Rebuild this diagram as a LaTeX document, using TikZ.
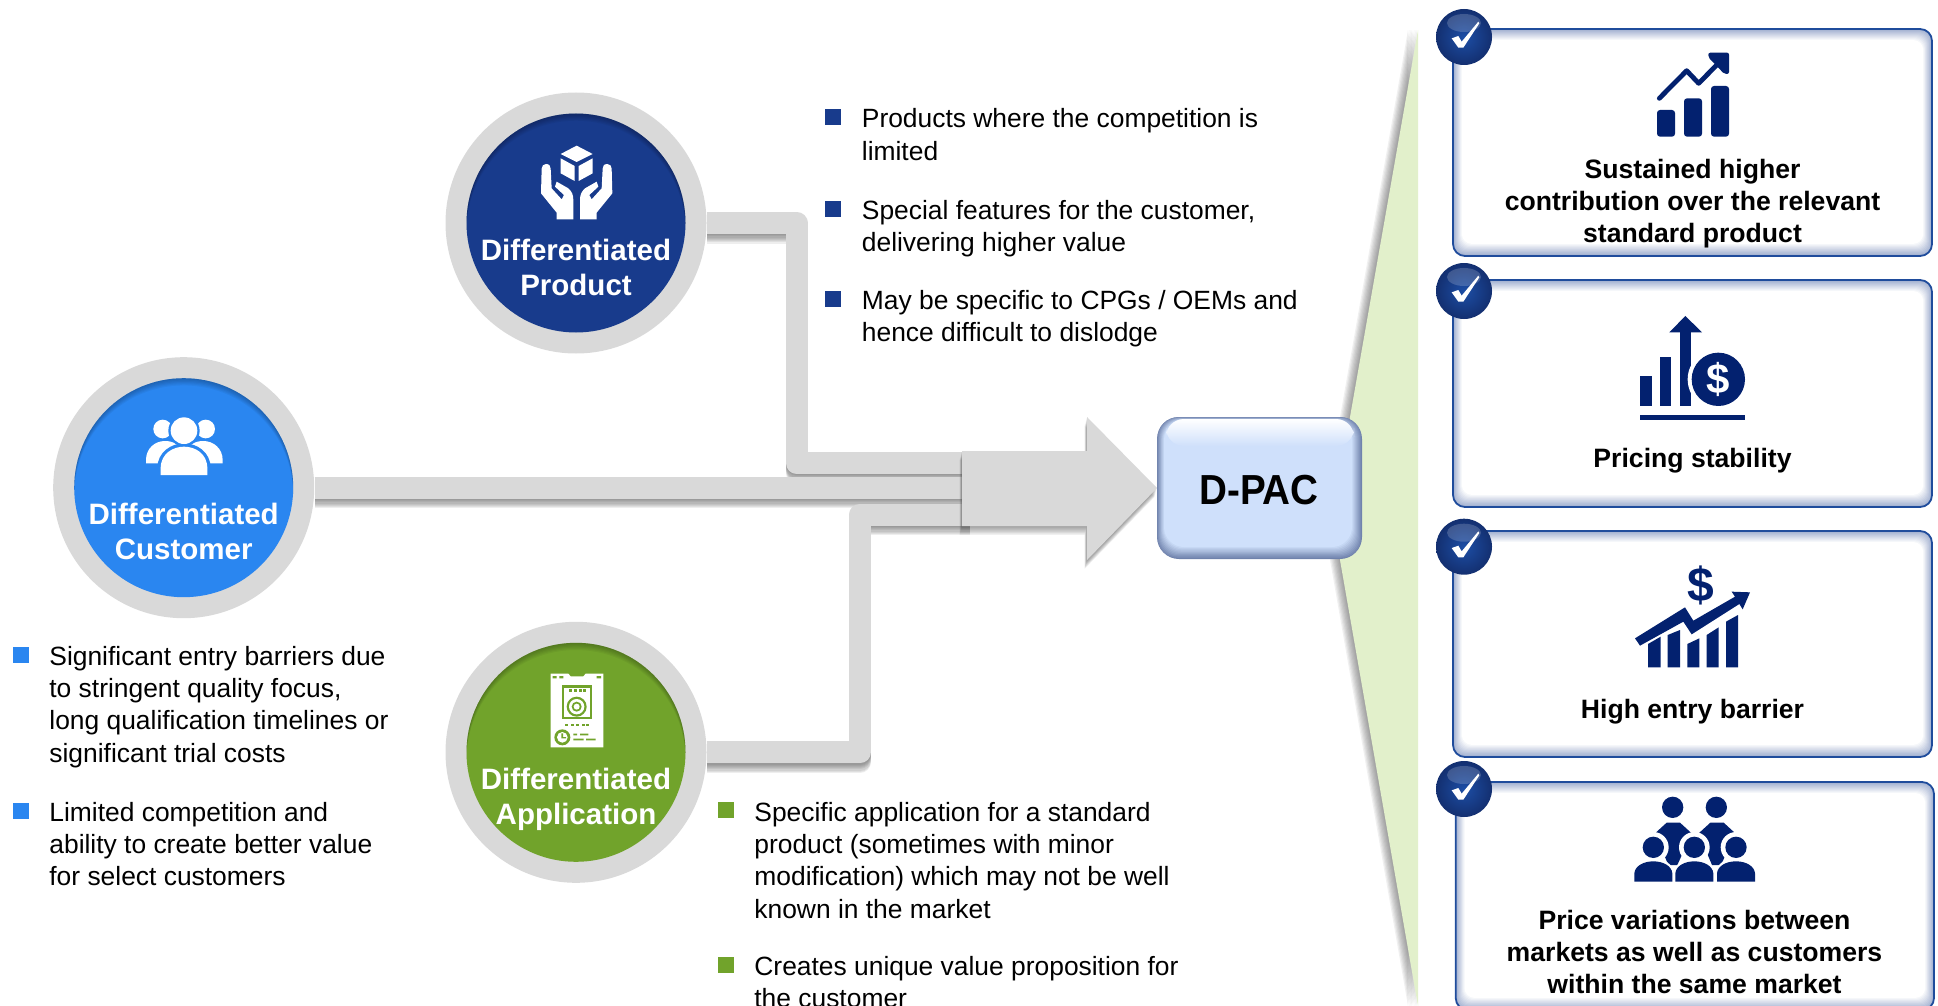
\documentclass[tikz,border=0pt]{standalone}
\usepackage{fontspec}
\setmainfont{Liberation Sans}
\definecolor{ring}{HTML}{D9D9D9}
\definecolor{shadowgrey}{HTML}{404040}
\definecolor{navyb}{HTML}{183B8C}
\definecolor{blueb}{HTML}{2A86F0}
\definecolor{greenb}{HTML}{71A32B}
\definecolor{funnel}{HTML}{E2F0CB}
\definecolor{dbox}{HTML}{CFE0FB}
\definecolor{dedge}{HTML}{6F82AC}
\definecolor{cardline}{HTML}{1F4C9C}
\definecolor{cardglow}{HTML}{9FAECF}
\definecolor{iconblue}{HTML}{03216F}
\tikzset{
  ringnode/.style={circle,fill=ring,minimum size=130.5pt,inner sep=0pt},
  discname/.style={white,font=\fontsize{14.75}{17.5}\selectfont\bfseries,align=center,inner sep=0pt},
  bodytext/.style={anchor=north west,inner sep=0pt,align=left,font=\fontsize{13.2}{16.1}\selectfont},
  cardtext/.style={inner sep=0pt,align=center,font=\fontsize{13.3}{16.1}\selectfont\bfseries},
  bulletsq/.style={rectangle,minimum size=8pt,inner sep=0pt},
  bandline/.style={draw=ring,line width=11pt,line join=round},
  shadowline/.style={draw=shadowgrey,line width=11pt,line join=round,opacity=.09},
}
\newcommand{\innerdisc}[2]{%
  \fill[#2] (#1) circle (54.75pt);
  \begin{scope}
    \clip (#1) circle (54.75pt);
    \foreach \i in {1,...,6}{
      \fill[black,opacity=.045,even odd rule] (#1) circle (70pt) ([yshift=-\i*0.6pt]#1) circle (54.75pt);
    }
  \end{scope}
}
\newcommand{\cardbox}[4]{%
  \fill[rounded corners=6pt,cardglow] (#1,#2) rectangle (#3,#4);
  \foreach \i in {1,...,11}{
    \pgfmathtruncatemacro{\p}{\i*100/11}
    \fill[rounded corners=5pt,white!\p!cardglow] (#1+\i*0.8,#2+\i) rectangle (#3-\i*0.8,#4-\i*1.1);
  }
  \draw[rounded corners=6pt,cardline,line width=.9pt] (#1,#2) rectangle (#3,#4);
}
\newcommand{\checkbadge}[2]{%
  \shade[inner color=navyb!75!blueb,outer color=navyb!80!black] (#1,#2) circle (28);
  \fill[white,opacity=.18] (#1,#2-14) ellipse (17 and 9);
  \begin{scope}[shift={(#1-44,#2-37)},scale=1/3]
    \fill[white] (95,115) -- (115,108) -- (125,125) -- (175,65) -- (178,70) -- (130,143) -- (115,143) -- cycle;
  \end{scope}
}
\newcommand{\handpath}{(318,252) .. controls (328,252) and (332,258) .. (332,266) -- (335,325) -- (365,358) -- (372,345) -- (345,320) -- (350,305) -- (385,325) .. controls (396,335) and (400,345) .. (400,360) -- (400,418) -- (350,418) -- (350,398) -- (303,340) -- (305,266) .. controls (305,258) and (310,252) .. (318,252) -- cycle}
\begin{document}
\begin{tikzpicture}[x=0.5pt,y=-0.5pt]
\useasboundingbox (0,0) rectangle (1938,1006);
\clip (0,0) rectangle (1938,1006);
% funnel
\foreach \i in {1,...,8}{
  \fill[shadowgrey,opacity=.08] (1418-\i*1.25,30) -- (1350-\i*1.25,417) -- (1340-\i*1.25,560) -- (1418-\i*1.25,1006) -- cycle;
}
\fill[funnel] (1418,30) -- (1350,417) -- (1340,560) -- (1418,1006) -- cycle;
% circles
\node[ringnode] (prod) at (576,223) {};
\node[ringnode] (cust) at (183.7,487.7) {};
\node[ringnode] (appl) at (576,752.3) {};
% connector helper points
\coordinate (pk) at (796.5,463);
\coordinate (pe) at (970,463);
\coordinate (ce) at (970,487.7);
\coordinate (ak) at (860,514.5);
\coordinate (ae) at (970,514.5);
% connector shadows
\foreach \i in {1,...,8}{
  \path[shadowline] ([yshift=-\i*0.6pt]prod.east) -| ([yshift=-\i*0.6pt]pk) -- ([yshift=-\i*0.6pt]pe);
}
\path[bandline] (prod.east) -| (pk) -- (pe);
\foreach \i in {1,...,8}{
  \path[shadowline] ([yshift=-\i*0.6pt]cust.east) -- ([yshift=-\i*0.6pt]ce);
}
\path[bandline] (cust.east) -- (ce);
\foreach \i in {1,...,8}{
  \path[shadowline] ([yshift=-\i*0.6pt]appl.east) -| ([yshift=-\i*0.6pt]ak) -- ([yshift=-\i*0.6pt]ae);
}
\path[bandline] (appl.east) -| (ak) -- (ae);
% big arrow
\foreach \i in {1,...,8}{
  \fill[shadowgrey,opacity=.08] (962-\i*0.3,451+\i*1.1) -- (1087-\i*0.3,451+\i*1.1) -- (1087-\i*0.3,417+\i*1.1) -- (1157-\i*0.3,488+\i*1.1) -- (1087-\i*0.3,560+\i*1.1) -- (1087-\i*0.3,526+\i*1.1) -- (962-\i*0.3,526+\i*1.1) -- cycle;
}
\fill[ring] (962,451) -- (1087,451) -- (1087,417) -- (1157,488) -- (1087,560) -- (1087,526) -- (962,526) -- cycle;
% discs
\innerdisc{prod}{navyb}
\innerdisc{cust}{blueb}
\innerdisc{appl}{greenb}
\node[discname] (prodname) at (576,267.5) {Differentiated\\Product};
\node[discname] (custname) at (183.7,531) {Differentiated\\Customer};
\node[discname] (applname) at (576,799.5) {Differentiated\\Application};
% hands icon
\begin{scope}[shift={(440,80)},scale=1/3]
  \fill[white] (410,197) -- (458,222) -- (410,246) -- (362,222) -- cycle;
  \fill[white] (362,235) -- (404,258) -- (404,303) -- (362,280) -- cycle;
  \fill[white] (458,235) -- (416,258) -- (416,303) -- (458,280) -- cycle;
  \fill[white] \handpath;
  \begin{scope}[shift={(820,0)},xscale=-1]
    \fill[white] \handpath;
  \end{scope}
\end{scope}
% people icon
\begin{scope}[shift={(40,345)},scale=1/3]
  \fill[white] (368,252) circle (28);
  \fill[white] (497,252) circle (28);
  \fill[white] (318,355) -- (318,345) .. controls (318,310) and (345,288) .. (375,288) .. controls (400,288) and (420,300) .. (432,320) .. controls (445,300) and (465,288) .. (490,288) .. controls (520,288) and (548,310) .. (548,345) -- (548,355) -- cycle;
  \fill[blueb] (432,257) circle (47);
  \fill[blueb] (352,400) -- (352,370) .. controls (352,320) and (395,295) .. (432,295) .. controls (470,295) and (512,320) .. (512,370) -- (512,400) -- cycle;
  \fill[white] (432,257) circle (40);
  \fill[white] (362,390) -- (362,370) .. controls (362,325) and (400,305) .. (432,305) .. controls (465,305) and (502,325) .. (502,370) -- (502,390) -- cycle;
\end{scope}
% washer icon
\begin{scope}[shift={(440,610)},scale=1/3]
  \fill[white] (332,191) -- (385,191) -- (392,199) -- (430,199) -- (437,191) -- (490,191) -- (490,412) -- (332,412) -- cycle;
  \fill[greenb] (338,198) rectangle (350,205) (358,198) rectangle (370,205) (470,198) rectangle (483,205);
  \fill[greenb] (365,226) rectangle (456,328);
  \fill[white] (372,233) rectangle (449,321);
  \foreach \xx in {388,402,416,430}{\fill[greenb] (\xx,237) rectangle (\xx+9,247);}
  \fill[greenb] (410,290) circle (30);
  \fill[white] (410,290) circle (23);
  \fill[greenb] (410,290) circle (15);
  \fill[white] (410,290) circle (9);
  \foreach \xx in {375,392,409,426,438}{\fill[greenb] (\xx,342) rectangle (\xx+9,349);}
  \fill[greenb] (367,382) circle (24);
  \fill[white] (367,382) circle (16);
  \fill[greenb] (364,370) rectangle (369,385) (364,381) rectangle (378,385);
  \fill[greenb] (400,371) rectangle (411,376) (420,371) rectangle (445,376) (400,386) rectangle (431,391) (438,386) rectangle (467,391);
\end{scope}
% D-PAC box
\fill[rounded corners=11pt,dedge] (1157,417) rectangle (1362,559);
\foreach \i in {1,...,10}{
  \pgfmathtruncatemacro{\p}{\i*10}
  \fill[rounded corners=10pt,dbox!\p!dedge] (1157+\i*0.7,417+\i*0.3) rectangle (1362-\i*1.0,559-\i*1.2);
}
\shade[rounded corners=9pt,top color=white,bottom color=dbox] (1166,419) rectangle (1354,446);
\node[inner sep=0pt,font=\fontsize{21}{24}\selectfont\bfseries] (dpac) at (1259,490) {\scalebox{.92}[1]{D-PAC}};
% cards
\cardbox{1453}{29}{1932}{256}
\cardbox{1453}{280}{1932}{507}
\cardbox{1453}{531}{1932}{757}
\cardbox{1455.7}{782}{1934}{1010}
\checkbadge{1464}{37}
\checkbadge{1464}{291}
\checkbadge{1464}{546.7}
\checkbadge{1464}{789}
% icon A
\begin{scope}[shift={(1420,0)},scale=1/3]
  \fill[iconblue,rounded corners=1.5pt] (711,330) rectangle (765,410);
  \fill[iconblue,rounded corners=1.5pt] (792,295) rectangle (846,410);
  \fill[iconblue,rounded corners=1.5pt] (873,258) rectangle (927,410);
  \draw[iconblue,line width=2.4pt,line cap=round,line join=round] (718,295) -- (800,212) -- (836,250) -- (900,185);
  \fill[iconblue,rounded corners=1pt] (865,158) -- (927,158) -- (927,222) -- (913,222) -- (865,172) -- cycle;
\end{scope}
% icon B
\begin{scope}[shift={(1420,0)},scale=1/3]
  \fill[iconblue] (660,1128) rectangle (695,1218);
  \fill[iconblue] (720,1072) rectangle (754,1218);
  \fill[iconblue] (780,997) rectangle (812,1218);
  \fill[iconblue] (748,997) -- (796,948) -- (846,997) -- cycle;
  \fill[white] (895,1138) circle (92);
  \fill[iconblue] (895,1138) circle (80);
  \fill[iconblue] (660,1246) rectangle (975,1260);
  \node[white,inner sep=0pt,font=\fontsize{21}{24}\selectfont\bfseries] (dollarb) at (895,1138) {\$};
\end{scope}
% icon C
\begin{scope}[shift={(1420,500)},scale=1/3]
  \fill[iconblue] (684,502) -- (684,432) -- (722,410) -- (722,502) -- cycle;
  \fill[iconblue] (743,502) -- (743,405) -- (780,390) -- (780,502) -- cycle;
  \fill[iconblue] (802,502) -- (802,432) -- (838,415) -- (838,502) -- cycle;
  \fill[iconblue] (860,502) -- (860,405) -- (896,382) -- (896,502) -- cycle;
  \fill[iconblue] (918,502) -- (918,365) -- (954,345) -- (954,502) -- cycle;
  \fill[iconblue] (645,415) -- (795,322) -- (820,362) -- (945,290) -- (935,275) -- (990,277) -- (968,328) -- (958,312) -- (815,403) -- (790,365) -- (660,437) -- cycle;
  \node[iconblue,inner sep=0pt,font=\fontsize{24}{27}\selectfont\bfseries] (dollarc) at (842,255) {\$};
\end{scope}
% icon D
\begin{scope}[shift={(1420,500)},scale=1/3]
  \fill[iconblue] (758,922) circle (32);
  \fill[iconblue] (889,922) circle (32);
  \fill[iconblue] (705,1000) -- (740,968) -- (780,968) -- (815,1000) -- (772,1095) -- (745,1095) -- cycle;
  \fill[iconblue] (836,1000) -- (871,968) -- (911,968) -- (946,1000) -- (903,1095) -- (876,1095) -- cycle;
  \foreach \cx in {700,823,948}{
    \fill[white] (\cx,1042) circle (46);
    \fill[white] (\cx-64,1150) -- (\cx-64,1120) .. controls (\cx-60,1095) and (\cx-30,1072) .. (\cx,1072) .. controls (\cx+30,1072) and (\cx+60,1095) .. (\cx+64,1120) -- (\cx+64,1150) -- cycle;
  }
  \foreach \cx in {700,823,948}{
    \fill[iconblue] (\cx,1042) circle (32);
    \fill[iconblue] (\cx-57,1145) -- (\cx-57,1120) .. controls (\cx-55,1098) and (\cx-30,1084) .. (\cx,1084) .. controls (\cx+30,1084) and (\cx+55,1098) .. (\cx+57,1120) -- (\cx+57,1145) -- cycle;
  }
\end{scope}
% card texts
\node[cardtext] (c1) at (1692.5,204) {\strut Sustained higher\\\strut contribution over the relevant\\\strut standard product};
\node[cardtext] (c2) at (1692.5,461.5) {\strut Pricing stability};
\node[cardtext] (c3) at (1692.5,712.5) {\strut High entry barrier};
\node[cardtext] (c4) at (1694.5,955) {\strut Price variations between\\\strut markets as well as customers\\\strut within the same market};
% product bullets
\node[bulletsq,fill=navyb] (b1) at (833,117) {};
\node[bodytext] (t1) at (861.5,105) {\strut Products where the competition is\\limited};
\node[bulletsq,fill=navyb] (b2) at (833,209) {};
\node[bodytext] (t2) at (861.5,196.5) {\strut Special features for the customer,\\delivering higher value};
\node[bulletsq,fill=navyb] (b3) at (833,299) {};
\node[bodytext] (t3) at (861.5,286.5) {\strut May be specific to CPGs / OEMs and\\hence difficult to dislodge};
% customer bullets
\node[bulletsq,fill=blueb] (b4) at (20.5,655) {};
\node[bodytext] (t4) at (49,642.5) {\strut Significant entry barriers due\\to stringent quality focus,\\long qualification timelines or\\significant trial costs};
\node[bulletsq,fill=blueb] (b5) at (20.5,811) {};
\node[bodytext] (t5) at (49,798.5) {\strut Limited competition and\\ability to create better value\\for select customers};
% application bullets
\node[bulletsq,fill=greenb] (b6) at (725.5,810) {};
\node[bodytext] (t6) at (754,798.5) {\strut Specific application for a standard\\product (sometimes with minor\\modification) which may not be well\\known in the market};
\node[bulletsq,fill=greenb] (b7) at (725.5,965) {};
\node[bodytext] (t7) at (754,952.5) {\strut Creates unique value proposition for\\the customer};
\end{tikzpicture}
\end{document}
